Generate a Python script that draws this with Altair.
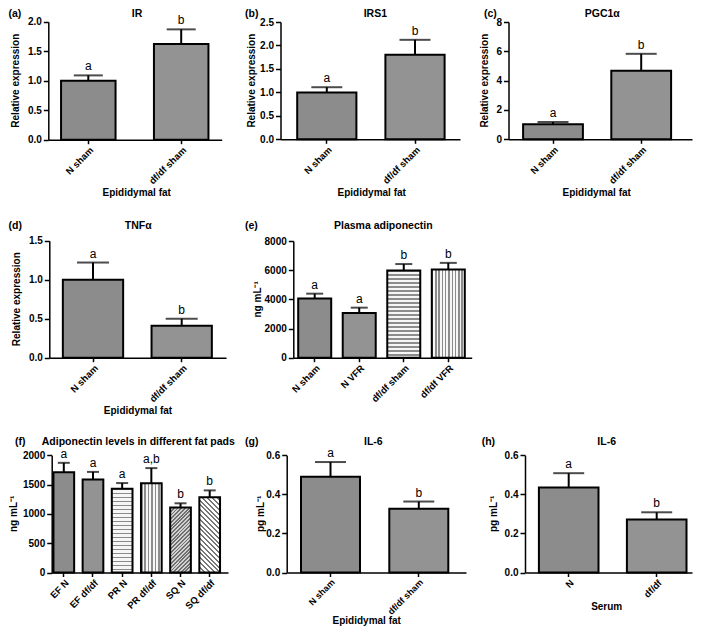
import altair as alt
import pandas as pd

FONT = "Liberation Sans, Arial, Helvetica, sans-serif"
OX, OY = 8, 8          # page margin: page coordinate -> view coordinate
VW, VH = 685, 619      # whole drawing area

# ---------------- data ----------------
ir_cats = ["N sham", "df/df sham"]
ir_mean = [1.00, 1.62]
ir_upper = [1.09, 1.87]
ir_letters = ["a", "b"]

irs1_cats = ["N sham", "df/df sham"]
irs1_mean = [1.00, 1.80]
irs1_upper = [1.11, 2.12]
irs1_letters = ["a", "b"]

pgc_cats = ["N sham", "df/df sham"]
pgc_mean = [1.02, 4.68]
pgc_upper = [1.18, 5.83]
pgc_letters = ["a", "b"]

tnf_cats = ["N sham", "df/df sham"]
tnf_mean = [1.00, 0.41]
tnf_upper = [1.22, 0.50]
tnf_letters = ["a", "b"]

adipo_cats = ["N sham", "N VFR", "df/df sham", "df/df VFR"]
adipo_mean = [4050, 3060, 5980, 6040]
adipo_upper = [4390, 3430, 6420, 6500]
adipo_letters = ["a", "a", "b", "b"]

pads_cats = ["EF N", "EF df/df", "PR N", "PR df/df", "SQ N", "SQ df/df"]
pads_mean = [1710, 1585, 1430, 1520, 1110, 1285]
pads_upper = [1870, 1715, 1525, 1780, 1180, 1400]
pads_letters = ["a", "a", "a", "a,b", "b", "b"]

il6f_cats = ["N sham", "df/df sham"]
il6f_mean = [0.490, 0.326]
il6f_upper = [0.565, 0.363]
il6f_letters = ["a", "b"]

il6s_cats = ["N", "df/df"]
il6s_mean = [0.435, 0.271]
il6s_upper = [0.508, 0.308]
il6s_letters = ["a", "b"]


# ---------------- fills (approximating the hatch patterns) ----------------
def stripes(n, dark, light, duty, x1, y1, x2, y2):
    stops = []
    for i in range(n):
        s = round(i / n, 5)
        m = round((i + duty) / n, 5)
        e = round((i + 1) / n, 5)
        stops += [alt.GradientStop(color=dark, offset=s),
                  alt.GradientStop(color=dark, offset=m),
                  alt.GradientStop(color=light, offset=m),
                  alt.GradientStop(color=light, offset=e)]
    return alt.LinearGradient(gradient="linear", stops=stops, x1=x1, y1=y1, x2=x2, y2=y2)


FILL = {
    "checkN": "#8c8c8c",
    "checkD": "#939393",
    "hs_e": stripes(22, "#8c8c8c", "#f6f6f6", 0.45, 0, 0, 0, 1),
    "vs_e": stripes(10, "#8c8c8c", "#f6f6f6", 0.45, 0, 0, 1, 0),
    "hs_f": stripes(21, "#8c8c8c", "#f6f6f6", 0.45, 0, 0, 0, 1),
    "vs_f": stripes(6, "#8c8c8c", "#f6f6f6", 0.45, 0, 0, 1, 0),
    "dr_f": stripes(23, "#707070", "#d2d2d2", 0.5, 0, 0, 0.382, 1.197),
    "dl_f": stripes(20, "#767676", "#ffffff", 0.42, 0, 1, 0.326, -0.185),
}


def band(W, off, step, bw, n):
    pi = 1 - bw / step
    used = (n - 1) * step + bw
    po = (W / step - n + pi) / 2
    al = off / (W - used)
    return pi, po, al


def text_layer(txt, x, y, size, weight, align, angle=0):
    return alt.Chart(pd.DataFrame({"t": [txt]})).mark_text(
        font=FONT, fontSize=size, fontWeight=weight, align=align,
        baseline="middle", color="black", angle=angle
    ).encode(x=alt.value(x - OX), y=alt.value(y - OY), text="t:N")


def panel(cats, mean, upper, letters, styles, g):
    df = pd.DataFrame({"cat": cats, "mean": mean, "upper": upper, "letter": letters})
    n = len(cats)
    L, R, T, B = g["L"] - OX, g["R"] - OX, g["T"] - OY, g["B"] - OY
    off = g["c1"] - g["bw"] / 2 - g["L"]
    pi, po, al = band(R - L, off, g["step"], g["bw"], n)
    xscale = alt.Scale(domain=cats, range=[L, R], paddingInner=pi, paddingOuter=po, align=al)
    xaxis = alt.Axis(orient="bottom", offset=B - VH, labelAngle=315, tickSize=4,
                     labelPadding=1, bandPosition=0.5, labelFontSize=g.get("xls", 9.5),
                     title=None)
    yscale = alt.Scale(domain=[0, g["ymax"]], range=[B, T], nice=False, zero=True)
    yaxis = alt.Axis(orient="left", offset=-L, values=g["yvals"], format=g["yfmt"],
                     title=None, tickSize=5, labelPadding=2)
    X = alt.X("cat:N", scale=xscale, axis=xaxis, sort=cats)

    def Y(field):
        return alt.Y(field, scale=yscale, axis=yaxis, type="quantitative")

    layers = []
    groups = {}
    for c in cats:
        groups.setdefault(styles[c], []).append(c)
    for key, members in groups.items():
        layers.append(
            alt.Chart(df).transform_filter(
                alt.FieldOneOfPredicate(field="cat", oneOf=members)
            ).mark_bar(fill=FILL[key], stroke="black", strokeWidth=2).encode(x=X, y=Y("mean"))
        )
    layers.append(alt.Chart(df).mark_rule(color="black", strokeWidth=2).encode(
        x=X, y=Y("mean"), y2="upper:Q"))
    layers.append(alt.Chart(df).mark_tick(color="black", thickness=2, size=g["cap"],
                                          orient="horizontal").encode(x=X, y=Y("upper")))
    layers.append(alt.Chart(df).mark_text(font=FONT, fontSize=12, baseline="alphabetic",
                                          dy=-5, color="black").encode(
        x=X, y=Y("upper"), text="letter:N"))
    t, tx, ty = g["title"]
    layers.append(text_layer(t, tx, ty, 10.5, "bold", "center"))
    lb, lx, ly = g["label"]
    layers.append(text_layer(lb, lx, ly, 10.5, "bold", "left"))
    yt, ytx = g["ytitle"]
    layers.append(text_layer(yt, ytx, (g["T"] + g["B"]) / 2, 10, "bold", "center", 270))
    if "xtitle" in g:
        xt, xtx, xty = g["xtitle"]
        layers.append(text_layer(xt, xtx, xty, 10, "bold", "center"))
    return alt.layer(*layers)


two = lambda a, b: {a: "checkN", b: "checkD"}

# panel geometry in page pixels (plot-area edges, first bar centre, bar step and width)
GA = dict(L=48.3, R=221.7, T=21.7, B=139.7, c1=88.3, step=92.9, bw=54.5, cap=29,
          ymax=2.0, yvals=[0, 0.5, 1, 1.5, 2], yfmt=".1f",
          title=("IR", 137, 13.5), label=("(a)", 8.5, 13.5),
          ytitle=("Relative expression", 16), xtitle=("Epididymal fat", 136.7, 193.3))
GB = dict(L=280.5, R=460, T=22, B=139.3, c1=326.8, step=88.2, bw=59.2, cap=31,
          ymax=2.5, yvals=[0, 0.5, 1, 1.5, 2, 2.5], yfmt=".1f",
          title=("IRS1", 375.3, 13.5), label=("(b)", 245, 13.5),
          ytitle=("Relative expression", 251.5), xtitle=("Epididymal fat", 371.7, 193.3))
GC = dict(L=508.5, R=692, T=22, B=139.3, c1=553, step=88.2, bw=59.8, cap=31,
          ymax=8, yvals=[0, 2, 4, 6, 8], yfmt="d",
          title=("PGC1α", 602.3, 13.5), label=("(c)", 484, 13.5),
          ytitle=("Relative expression", 484.5), xtitle=("Epididymal fat", 596.7, 193.3))
GD = dict(L=49.3, R=226, T=240.7, B=357.7, c1=93, step=88.7, bw=60.3, cap=32,
          ymax=1.5, yvals=[0, 0.5, 1, 1.5], yfmt=".1f",
          title=("TNFα", 138.3, 225.7), label=("(d)", 8.5, 225.7),
          ytitle=("Relative expression", 16.5), xtitle=("Epididymal fat", 138, 410.7))
GE = dict(L=293.3, R=471.7, T=241, B=357.7, c1=314.7, step=44.53, bw=33, cap=17,
          ymax=8000, yvals=[0, 2000, 4000, 6000, 8000], yfmt="d",
          title=("Plasma adiponectin", 383.3, 225.7), label=("(e)", 245, 225.7),
          ytitle=("ng mL⁻¹", 258))
GF = dict(L=51.7, R=228, T=455.2, B=572.5, c1=63.8, step=29.18, bw=20.7, cap=12,
          ymax=2000, yvals=[0, 500, 1000, 1500, 2000], yfmt="d",
          title=("Adiponectin levels in different fat pads", 138.3, 441.5),
          label=("(f)", 15, 441.5), ytitle=("ng mL⁻¹", 13.5))
GG = dict(L=286.7, R=466, T=455.2, B=572.5, c1=330.5, step=88.3, bw=59, cap=31,
          ymax=0.6, yvals=[0, 0.2, 0.4, 0.6], yfmt=".1f", xls=9,
          title=("IL-6", 373.3, 441.5), label=("(g)", 245, 441.5),
          ytitle=("pg mL⁻¹", 260.7), xtitle=("Epididymal fat", 366.7, 621))
GH = dict(L=525, R=692, T=455.2, B=572.5, c1=568.7, step=88, bw=59.6, cap=31,
          ymax=0.6, yvals=[0, 0.2, 0.4, 0.6], yfmt=".1f",
          title=("IL-6", 606.7, 441.5), label=("(h)", 481.7, 441.5),
          ytitle=("pg mL⁻¹", 493.7), xtitle=("Serum", 606.7, 607))

panels = [
    panel(ir_cats, ir_mean, ir_upper, ir_letters, two(*ir_cats), GA),
    panel(irs1_cats, irs1_mean, irs1_upper, irs1_letters, two(*irs1_cats), GB),
    panel(pgc_cats, pgc_mean, pgc_upper, pgc_letters, two(*pgc_cats), GC),
    panel(tnf_cats, tnf_mean, tnf_upper, tnf_letters, two(*tnf_cats), GD),
    panel(adipo_cats, adipo_mean, adipo_upper, adipo_letters,
          {"N sham": "checkN", "N VFR": "checkD", "df/df sham": "hs_e", "df/df VFR": "vs_e"}, GE),
    panel(pads_cats, pads_mean, pads_upper, pads_letters,
          {"EF N": "checkN", "EF df/df": "checkD", "PR N": "hs_f", "PR df/df": "vs_f",
           "SQ N": "dr_f", "SQ df/df": "dl_f"}, GF),
    panel(il6f_cats, il6f_mean, il6f_upper, il6f_letters, two(*il6f_cats), GG),
    panel(il6s_cats, il6s_mean, il6s_upper, il6s_letters, two(*il6s_cats), GH),
]

chart = alt.layer(*panels).resolve_scale(
    x="independent", y="independent"
).resolve_axis(
    x="independent", y="independent"
).properties(
    width=VW, height=VH, padding=0, background="white",
    autosize=alt.AutoSizeParams(type="none"),
).configure_view(
    strokeWidth=0
).configure_axis(
    domainColor="black", domainWidth=1.5, tickColor="black", tickWidth=1.5, grid=False,
    labelFont=FONT, labelFontSize=10, labelFontWeight="bold", labelColor="black",
)

chart.save("out.html", embed_options={"renderer": "svg", "actions": False})
